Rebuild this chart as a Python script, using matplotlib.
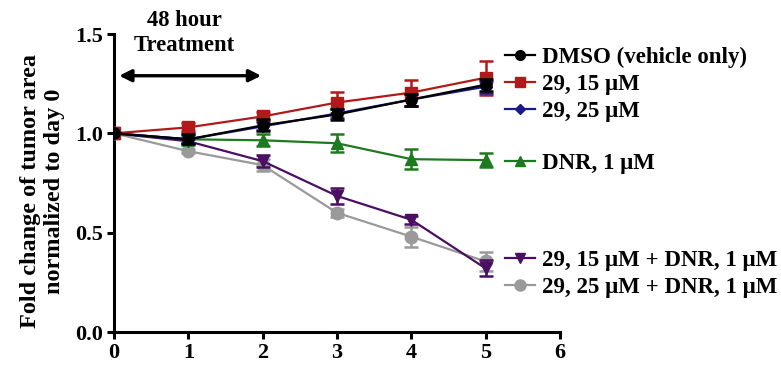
import matplotlib
matplotlib.use("Agg")
import matplotlib.pyplot as plt
from matplotlib.lines import Line2D

plt.rcParams['font.family'] = ['Liberation Serif', 'DejaVu Serif']
plt.rcParams['font.weight'] = 'bold'

days = [0, 1, 2, 3, 4, 5]

labels = ["DMSO (vehicle only)", "29, 15 \u03bcM", "29, 25 \u03bcM", "DNR, 1 \u03bcM",
          "29, 15 \u03bcM + DNR, 1 \u03bcM", "29, 25 \u03bcM + DNR, 1 \u03bcM"]

dmso = [1.00, 0.97, 1.04, 1.095, 1.17, 1.245]
dmso_err = [0.0, 0.025, 0.03, 0.03, 0.03, 0.03]
c15 = [1.00, 1.03, 1.085, 1.155, 1.205, 1.28]
c15_err = [0.0, 0.02, 0.02, 0.055, 0.065, 0.085]
c25 = [1.00, 0.97, 1.035, 1.10, 1.17, 1.235]
c25_err = [0.0, 0.02, 0.02, 0.025, 0.03, 0.03]
dnr = [1.00, 0.97, 0.965, 0.95, 0.87, 0.865]
dnr_err = [0.0, 0.03, 0.03, 0.045, 0.05, 0.035]
c15_dnr = [1.00, 0.96, 0.86, 0.685, 0.565, 0.32]
c15_dnr_err = [0.0, 0.01, 0.03, 0.04, 0.02, 0.04]
c25_dnr = [1.00, 0.91, 0.84, 0.60, 0.48, 0.355]
c25_dnr_err = [0.0, 0.01, 0.03, 0.02, 0.05, 0.05]

colors = ["#000000", "#b01a1a", "#1a1a8a", "#1e7a1e", "#4a0f62", "#9a9a9a"]
markers = ["o", "s", "D", "^", "v", "o"]
msizes = [8, 8, 6, 8, 8, 9]
series = [dmso, c15, c25, dnr, c15_dnr, c25_dnr]
errs = [dmso_err, c15_err, c25_err, dnr_err, c15_dnr_err, c25_dnr_err]

fig = plt.figure(figsize=(7.81, 3.65), dpi=100)
ax = fig.add_axes([114/781, 1-332/365, (560-114)/781, (332-34)/365])

order = [5, 4, 3, 1, 2, 0]
for i in order:
    ax.errorbar(days, series[i], yerr=errs[i], color=colors[i], marker=markers[i],
                markersize=msizes[i], linewidth=1.6, elinewidth=1.8, capsize=5,
                capthick=1.8, zorder=3 + order.index(i))

ax.set_xlim(0, 6)
ax.set_ylim(0, 1.5)
ax.set_xticks([0, 1, 2, 3, 4, 5, 6])
ax.set_yticks([0.0, 0.5, 1.0, 1.5])
ax.set_yticklabels(["0.0", "0.5", "1.0", "1.5"])
for s in ["top", "right"]:
    ax.spines[s].set_visible(False)
for s in ["left", "bottom"]:
    ax.spines[s].set_linewidth(2.2)
ax.tick_params(direction="out", length=5, width=2.2, labelsize=16, pad=3)
for t in ax.get_xticklabels() + ax.get_yticklabels():
    t.set_fontweight("bold")

ax.set_ylabel("Fold change of tumor area\nnormalized to day 0", fontsize=17.5,
              fontweight="bold", linespacing=1.2)
ax.yaxis.set_label_coords(-0.11, 0.473)

# treatment arrow
ax.annotate("", xy=(0.07, 1.29), xytext=(1.98, 1.29),
            arrowprops=dict(arrowstyle="<|-|>", color="black", lw=2.4,
                            mutation_scale=18, shrinkA=0, shrinkB=0))
ax.text(0.95, 1.505, "48 hour\nTreatment", ha="center", va="center", fontsize=16.3,
        fontweight="bold", linespacing=1.2, clip_on=False)

def handle(i):
    return Line2D([0], [0], color=colors[i], marker=markers[i],
                  markersize=msizes[i] - 1, linewidth=1.6)

groups = [([0, 1, 2], 55), ([3], 161), ([4, 5], 258)]
for idx, ypix in groups:
    leg = fig.legend([handle(i) for i in idx], [labels[i] for i in idx],
                     loc="upper left", bbox_to_anchor=(505/781, 1-(ypix-8)/365),
                     frameon=False, handlelength=1.3,
                     handletextpad=0.3, labelspacing=0.25, borderpad=0,
                     borderaxespad=0, prop={'weight': 'bold', 'size': 16.5})

fig.savefig("out.png", dpi=100)
